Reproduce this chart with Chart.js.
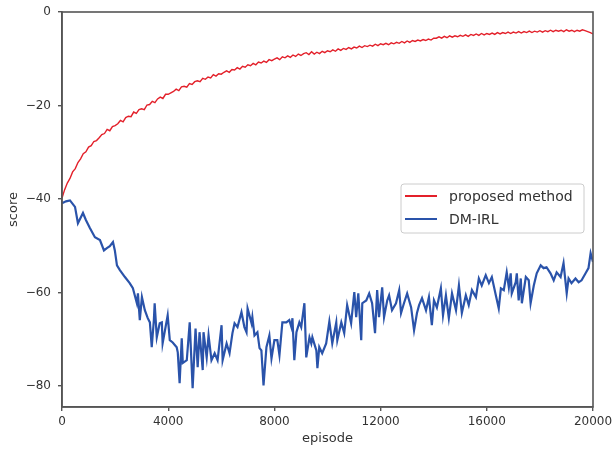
<!DOCTYPE html>
<html>
<head>
<meta charset="utf-8">
<script src="https://cdn.jsdelivr.net/npm/chart.js@4.4.1/dist/chart.umd.min.js"></script>
<style>
  html, body { margin: 0; padding: 0; background: #ffffff; }
  #wrap { position: relative; width: 612px; height: 452px; }
  canvas { display: block; }
</style>
</head>
<body>
<div id="wrap"><canvas id="c" width="612" height="452"></canvas></div>
<script>
// ---- data ----
const seriesNames = ['proposed method', 'DM-IRL'];
const xTickValues = [0, 4000, 8000, 12000, 16000, 20000];
const yTickValues = [0, -20, -40, -60, -80];

// proposed method: one reading every 100 episodes (0 .. 20000)
const proposedStep = 100;
const proposedScores = [
  -39.8, -38.0, -36.6, -35.6, -34.2, -33.5, -32.2, -31.4, -30.3, -29.9,
  -28.9, -28.6, -27.7, -27.5, -26.9, -26.2, -26.0, -25.1, -25.4, -24.5,
  -24.3, -23.9, -23.2, -23.5, -22.6, -22.3, -22.4, -21.4, -21.7, -20.9,
  -20.7, -20.9, -19.9, -19.8, -19.1, -19.4, -18.6, -18.2, -18.5, -17.6,
  -17.6, -17.3, -17.0, -16.5, -16.8, -16.0, -15.9, -16.1, -15.3, -15.5,
  -14.9, -14.7, -14.9, -14.2, -14.4, -13.9, -14.1, -13.4, -13.7, -13.2,
  -13.3, -12.9, -12.6, -12.9, -12.3, -12.4, -11.9, -12.2, -11.6, -11.8,
  -11.3, -11.5, -11.0, -11.3, -10.7, -10.9, -10.5, -10.8, -10.2, -10.4,
  -10.1, -9.8, -10.2, -9.6, -9.8, -9.4, -9.7, -9.2, -9.5, -9.0,
  -9.3, -8.9, -8.7, -9.1, -8.5, -9.0, -8.6, -8.9, -8.4, -8.7,
  -8.3, -8.5, -8.1, -8.4, -7.9, -8.2, -7.8, -8.0, -7.6, -7.9,
  -7.5, -7.7, -7.3, -7.6, -7.2, -7.4, -7.1, -7.3, -6.9, -7.2,
  -6.8, -7.0, -6.7, -7.0, -6.6, -6.8, -6.5, -6.7, -6.3, -6.6,
  -6.2, -6.5, -6.1, -6.3, -6.0, -6.2, -5.9, -6.1, -5.8, -6.0,
  -5.6, -5.6, -5.3, -5.6, -5.2, -5.5, -5.1, -5.4, -5.1, -5.3,
  -5.0, -5.2, -4.9, -5.2, -4.8, -5.0, -4.7, -5.0, -4.6, -4.9,
  -4.6, -4.8, -4.5, -4.8, -4.4, -4.7, -4.4, -4.6, -4.3, -4.6,
  -4.3, -4.5, -4.2, -4.5, -4.2, -4.4, -4.1, -4.4, -4.1, -4.3,
  -4.0, -4.3, -4.0, -4.2, -3.9, -4.2, -3.9, -4.1, -3.9, -4.2,
  -3.8, -4.1, -3.9, -4.2, -3.9, -4.1, -3.8, -4.0, -4.2, -4.4,
  -4.7
];

// DM-IRL: readings at the episodes where the curve turns
const dmirlEpisodes = [
  0,150,300,490,600,790,900,1050,1240,1430,1580,1690,1800,1920,1990,2070,2180,2370,2550,2670,
  2740,2820,2860,2930,3010,3120,3230,3310,3380,3460,3490,3570,3680,3760,3790,3980,4060,4170,4320,4360,
  4430,4510,4550,4700,4810,4920,5030,5110,5180,5300,5330,5450,5520,5630,5750,5860,6010,6050,6200,6310,
  6420,6500,6610,6760,6870,6950,6990,7140,7170,7250,7360,7440,7510,7590,7700,7810,7890,8000,8110,8190,
  8300,8450,8560,8640,8680,8750,8830,8940,9010,9130,9200,9320,9390,9430,9580,9620,9690,9800,9950,10070,
  10180,10330,10370,10520,10630,10740,10890,11010,11080,11160,11270,11310,11460,11570,11680,11790,11870,11940,12060,12130,
  12250,12320,12430,12580,12700,12770,12880,13000,13150,13260,13370,13450,13560,13710,13820,13930,14010,14120,14270,14350,
  14460,14570,14690,14840,14950,15060,15210,15320,15440,15590,15700,15810,15960,16080,16190,16340,16450,16530,16640,16750,
  16830,16900,16940,17090,17130,17200,17280,17320,17470,17580,17650,17770,17880,18030,18140,18250,18400,18520,18630,18780,
  18890,19010,19080,19190,19340,19460,19570,19720,19830,19910,20000
];
const dmirlScores = [
  -40.9,-40.5,-40.3,-41.7,-45.2,-43.0,-44.5,-46.2,-48.2,-48.8,-51.0,-50.5,-50.1,-49.2,-51.0,-54.2,-55.2,-56.7,-58.0,-59.1,
  -60.6,-62.3,-60.2,-65.9,-61.0,-63.8,-65.5,-66.4,-71.7,-65.9,-62.3,-69.6,-66.6,-66.4,-70.9,-64.9,-70.2,-70.7,-71.7,-72.8,
  -79.4,-69.8,-75.1,-74.5,-66.4,-80.5,-67.7,-76.0,-68.5,-76.6,-68.5,-73.9,-69.2,-74.5,-73.0,-74.5,-67.0,-74.5,-70.9,-73.0,
  -68.7,-66.6,-67.4,-64.2,-67.4,-68.5,-63.4,-66.6,-65.3,-69.2,-68.5,-71.9,-72.4,-79.9,-71.7,-69.2,-74.1,-70.2,-70.2,-73.4,
  -66.4,-66.4,-65.9,-67.4,-65.5,-74.5,-68.5,-66.4,-67.4,-62.3,-73.9,-69.6,-70.9,-69.6,-72.4,-76.2,-71.7,-73.0,-70.9,-66.2,
  -70.9,-66.4,-70.2,-66.4,-68.7,-62.7,-66.6,-59.9,-65.3,-60.2,-70.2,-62.3,-61.7,-60.2,-62.3,-68.7,-59.5,-65.3,-58.9,-65.3,
  -61.7,-60.6,-63.8,-62.3,-59.5,-64.4,-62.3,-60.2,-63.2,-68.1,-64.4,-62.7,-61.2,-63.8,-61.0,-67.0,-61.7,-63.2,-59.1,-64.9,
  -60.6,-65.5,-60.2,-63.8,-58.5,-64.4,-60.6,-62.7,-59.5,-61.0,-57.0,-58.5,-56.3,-58.0,-56.7,-60.6,-63.4,-59.1,-59.5,-55.7,
  -58.9,-55.9,-60.2,-57.8,-55.9,-61.7,-57.0,-62.3,-56.7,-57.4,-62.3,-58.5,-55.9,-54.2,-54.8,-54.6,-55.9,-57.4,-55.7,-56.7,
  -53.7,-60.2,-57.0,-58.0,-57.0,-57.8,-57.4,-55.9,-54.8,-51.6,-53.5
];

// ---- styling ----
const RED = '#e3202a';
const BLUE = '#2a53aa';
const AXIS = '#555555';
const TXT = '#333333';
const FONT = "'DejaVu Sans', sans-serif";

const minus = v => String(v).replace('-', '\u2212');

const frameAndLegend = {
  id: 'frameAndLegend',
  afterDatasetsDraw(chart) {
    const { ctx, chartArea: a } = chart;
    ctx.save();
    ctx.strokeStyle = AXIS;
    ctx.lineWidth = 1.6;
    ctx.strokeRect(a.left, a.top, a.right - a.left, a.bottom - a.top);

    // legend box
    const bx = 401, by = 184, bw = 183, bh = 49, r = 3;
    ctx.fillStyle = 'rgba(255,255,255,0.9)';
    ctx.strokeStyle = '#cccccc';
    ctx.lineWidth = 1;
    ctx.beginPath();
    ctx.moveTo(bx + r, by);
    ctx.lineTo(bx + bw - r, by);
    ctx.quadraticCurveTo(bx + bw, by, bx + bw, by + r);
    ctx.lineTo(bx + bw, by + bh - r);
    ctx.quadraticCurveTo(bx + bw, by + bh, bx + bw - r, by + bh);
    ctx.lineTo(bx + r, by + bh);
    ctx.quadraticCurveTo(bx, by + bh, bx, by + bh - r);
    ctx.lineTo(bx, by + r);
    ctx.quadraticCurveTo(bx, by, bx + r, by);
    ctx.closePath();
    ctx.fill();
    ctx.stroke();

    const rows = [196, 219];
    chart.data.datasets.forEach((ds, i) => {
      const y = rows[i];
      ctx.strokeStyle = ds.borderColor;
      ctx.lineWidth = 2;
      ctx.beginPath();
      ctx.moveTo(405, y);
      ctx.lineTo(437, y);
      ctx.stroke();
      ctx.fillStyle = TXT;
      ctx.font = "14px " + FONT;
      ctx.textBaseline = 'middle';
      ctx.textAlign = 'left';
      ctx.fillText(ds.label, 449, y + 1);
    });
    ctx.restore();
  }
};

new Chart(document.getElementById('c'), {
  type: 'line',
  data: {
    datasets: [
      {
        label: seriesNames[0],
        data: proposedScores.map((v, i) => ({ x: i * proposedStep, y: v })),
        borderColor: RED,
        borderWidth: 1.4,
        pointRadius: 0,
        tension: 0,
        fill: false
      },
      {
        label: seriesNames[1],
        data: dmirlScores.map((v, i) => ({ x: dmirlEpisodes[i], y: v })),
        borderColor: BLUE,
        borderWidth: 2.2,
        pointRadius: 0,
        tension: 0,
        fill: false
      }
    ]
  },
  options: {
    responsive: false,
    animation: false,
    devicePixelRatio: 1,
    layout: { padding: { left: 0, top: 12, right: 19, bottom: 0 } },
    plugins: { legend: { display: false }, tooltip: { enabled: false } },
    scales: {
      x: {
        type: 'linear',
        min: 0,
        max: 20000,
        afterBuildTicks: s => { s.ticks = xTickValues.map(v => ({ value: v })); },
        afterFit: s => { s.height = 45; s.paddingRight = 0; s.paddingLeft = 0; },
        ticks: {
          callback: v => String(v),
          font: { family: FONT, size: 12 },
          color: TXT,
          padding: 4,
          maxRotation: 0
        },
        grid: { display: true, drawOnChartArea: false, drawTicks: true, tickLength: 4, color: AXIS, lineWidth: 1.4 },
        border: { display: true, color: AXIS, width: 1.6 },
        title: { display: true, text: 'episode', font: { family: FONT, size: 13 }, color: TXT, padding: { top: 2, bottom: 6 } }
      },
      y: {
        type: 'linear',
        min: -84.5,
        max: 0,
        afterBuildTicks: s => { s.ticks = yTickValues.map(v => ({ value: v })); },
        afterFit: s => { s.width = 62; s.paddingTop = 0; s.paddingBottom = 0; },
        ticks: {
          callback: v => minus(v),
          font: { family: FONT, size: 12 },
          color: TXT,
          padding: 7
        },
        grid: { display: true, drawOnChartArea: false, drawTicks: true, tickLength: 4, color: AXIS, lineWidth: 1.4 },
        border: { display: true, color: AXIS, width: 1.6 },
        title: { display: true, text: 'score', font: { family: FONT, size: 13 }, color: TXT, padding: { top: 6, bottom: 2 } }
      }
    }
  },
  plugins: [frameAndLegend]
});
</script>
</body>
</html>
